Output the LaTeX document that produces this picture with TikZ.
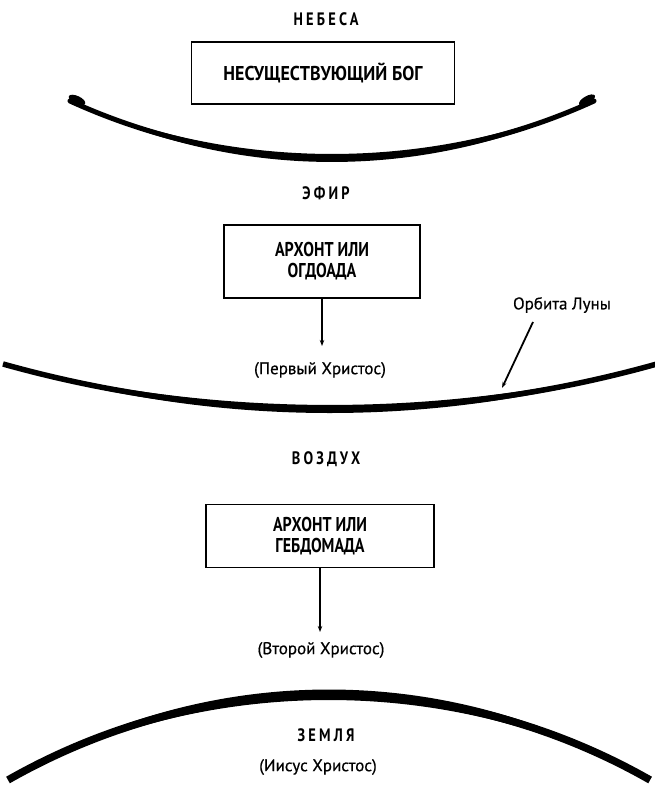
\documentclass[tikz,border=0pt]{standalone}
\usepackage{fontspec}
\setmainfont{PT Sans}
\newfontfamily\hdfont{PT Sans}[LetterSpace=18, FakeStretch=0.8]
\newfontfamily\boxfont{PT Sans}[FakeStretch=0.8]
\newfontfamily\wideboxfont{PT Sans}[FakeStretch=0.9]
\newfontfamily\lblfont{PT Sans}[FakeBold=0.5]
\usetikzlibrary{arrows.meta}
\tikzset{
  header/.style={font=\hdfont\bfseries\fontsize{18}{20}\selectfont, inner sep=0pt},
  boxnode/.style={draw, line width=1.8pt, font=\boxfont\bfseries\fontsize{20}{21}\selectfont, align=center, inner sep=0pt},
  label/.style={font=\lblfont\fontsize{17}{19}\selectfont, inner sep=0pt},
  arr/.style={line width=1.4pt, -{Stealth[length=6pt,width=4.5pt]}}
}
\begin{document}
\begin{tikzpicture}[x=1pt,y=1pt]
\useasboundingbox (0,0) rectangle (655,786);
\begin{scope}
\clip (0,0) rectangle (655,786);
% arc 1 (heavens boundary)
\fill (70,685) arc[start angle=247.13, end angle=292.87, radius=674.1]
      arc[start angle=296.21, end angle=243.79, radius=593.2] -- cycle;
\draw[line width=5pt, line cap=round] (70,685) arc[start angle=245.45, end angle=294.55, radius=630.6];
\fill[rotate around={-25:(77,686)}] (77,686) ellipse[x radius=9, y radius=4];
\fill[rotate around={30:(587,686)}] (587,686) ellipse[x radius=9, y radius=3.8];
% arc 2 (orbit of the moon)
\fill (3,422) arc[start angle=255.71, end angle=284.29, radius=1324.5]
      arc[start angle=287.05, end angle=252.95, radius=1115.6] -- cycle;
\draw[line width=5.5pt] (3,422) arc[start angle=254.33, end angle=285.67, radius=1210.6];
% arc 3 (earth)
\fill (8,6) arc[start angle=121.49, end angle=58.51, radius=614.5]
      arc[start angle=62.01, end angle=117.99, radius=684.0] -- cycle;
\draw[line width=7.5pt] (8,6) arc[start angle=119.67, end angle=60.33, radius=648.6];
\end{scope}

\node[header] (heaven) at (326,767) {НЕБЕСА};
\node[boxnode, font=\wideboxfont\bfseries\fontsize{20}{21}\selectfont, minimum width=263pt, minimum height=62pt] (god) at (323,713) {НЕСУЩЕСТВУЮЩИЙ БОГ};

\node[header] (ether) at (326,593) {ЭФИР};
\node[boxnode, minimum width=196pt, minimum height=73pt] (ogd) at (322,524.5) {АРХОНТ ИЛИ\\ОГДОАДА};
\coordinate (c1) at (322,440);
\draw[arr] (ogd.south) -- (c1);
\node[label] (first) at (320,416) {(Первый Христос)};
\node[label] (moon) at (562,481) {Орбита Луны};
\coordinate (mp1) at (533,464);
\coordinate (mp2) at (502,398);
\draw[line width=1.8pt, -{Stealth[length=6pt,width=4pt]}] (mp1) -- (mp2);

\node[header] (air) at (326,327) {ВОЗДУХ};
\node[boxnode, minimum width=228pt, minimum height=63pt] (hebd) at (320,250) {АРХОНТ ИЛИ\\ГЕБДОМАДА};
\coordinate (c2) at (320,154);
\draw[arr] (hebd.south) -- (c2);
\node[label] (second) at (321,136) {(Второй Христос)};

\node[header] (earth) at (326,51) {ЗЕМЛЯ};
\node[label] (jesus) at (318,19) {(Иисус Христос)};
\end{tikzpicture}
\end{document}
